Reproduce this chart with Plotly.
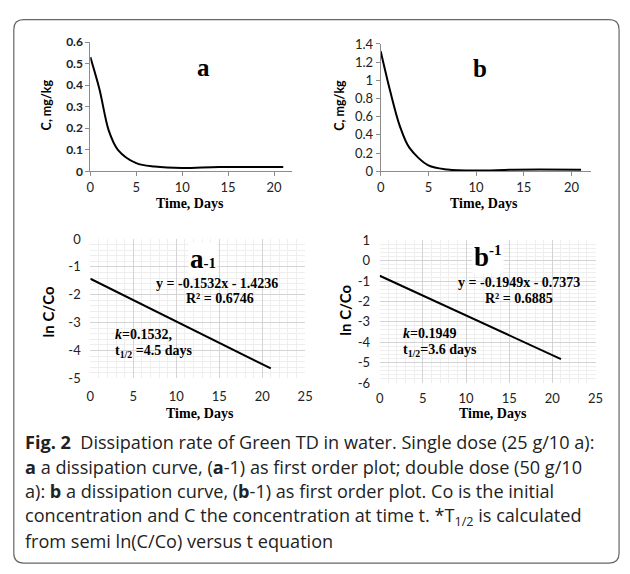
import plotly.graph_objects as go

W, H = 630, 574

# ---------------- data ----------------
days_a = [0, 1, 2, 3, 5, 7, 10, 14, 21]
conc_a = [0.53, 0.38, 0.19, 0.10, 0.038, 0.022, 0.015, 0.02, 0.02]
days_b = [0, 1, 2, 3, 5, 7, 10, 14, 21]
conc_b = [1.32, 0.88, 0.50, 0.26, 0.065, 0.02, 0.008, 0.018, 0.018]

fit_x = [0, 21]
slope_a, icpt_a, r2_a = -0.1532, -1.4236, 0.6746
slope_b, icpt_b, r2_b = -0.1949, -0.7373, 0.6885
k_a, thalf_a = 0.1532, 4.5
k_b, thalf_b = 0.1949, 3.6

ticks_a_y = [0, 0.1, 0.2, 0.3, 0.4, 0.5, 0.6]
ticks_b_y = [0, 0.2, 0.4, 0.6, 0.8, 1.0, 1.2, 1.4]
ticks_a1_y = [0, -1, -2, -3, -4, -5]
ticks_b1_y = [1, 0, -1, -2, -3, -4, -5, -6]
ticks_curve_x = [0, 5, 10, 15, 20]
ticks_lin_x = [0, 5, 10, 15, 20, 25]

caption_lines = [
    "<b>Fig. 2</b>  Dissipation rate of Green TD in water. Single dose (25 g/10 a):",
    "<b>a</b> a dissipation curve, (<b>a</b>-1) as first order plot; double dose (50 g/10",
    "a): <b>b</b> a dissipation curve, (<b>b</b>-1) as first order plot. Co is the initial",
    "concentration and C the concentration at time t. *T<sub>1/2</sub> is calculated",
    "from semi ln(C/Co) versus t equation",
]

# ---------------- helpers ----------------
def px(x):
    return x / W

def py(y):
    return 1 - y / H

SERIF = "Liberation Serif"
SANS = "Lato"
CAP = "Open Sans"

fig = go.Figure()

fig.add_trace(go.Scatter(x=days_a, y=conc_a, mode="lines", line=dict(color="black", width=2, shape="spline", smoothing=0.9),
                         xaxis="x", yaxis="y", showlegend=False))
fig.add_trace(go.Scatter(x=days_b, y=conc_b, mode="lines", line=dict(color="black", width=2, shape="spline", smoothing=0.9),
                         xaxis="x2", yaxis="y2", showlegend=False))
fig.add_trace(go.Scatter(x=fit_x, y=[slope_a * v + icpt_a for v in fit_x], mode="lines", line=dict(color="black", width=2),
                         xaxis="x3", yaxis="y3", showlegend=False))
fig.add_trace(go.Scatter(x=fit_x, y=[slope_b * v + icpt_b for v in fit_x], mode="lines", line=dict(color="black", width=2),
                         xaxis="x4", yaxis="y4", showlegend=False))

axcol = "#8c8c8c"
curve_x = dict(range=[0, 22], tickvals=ticks_curve_x, showline=True, linecolor=axcol, linewidth=1,
               ticks="outside", ticklen=4, tickcolor=axcol, showgrid=False, zeroline=False,
               tickfont=dict(family=SANS, size=13, color="#222"))
grid_major = "#d4d4d4"
grid_minor = "#eeeeee"

fig.update_layout(
    width=W, height=H,
    margin=dict(l=0, r=0, t=0, b=0),
    paper_bgcolor="white", plot_bgcolor="rgba(0,0,0,0)",
    xaxis=dict(domain=[px(88), px(294)], anchor="y", **curve_x),
    yaxis=dict(domain=[py(168), py(35)], anchor="x", range=[0, 0.6], tickvals=ticks_a_y,
               showline=True, linecolor=axcol, ticks="outside", ticklen=4, tickcolor=axcol,
               showgrid=False, zeroline=False,
               tickfont=dict(family=SANS, size=12, color="#222", weight="bold")),
    xaxis2=dict(domain=[px(384), px(598)], anchor="y2", **curve_x),
    yaxis2=dict(domain=[py(168), py(37)], anchor="x2", range=[0, 1.4], tickvals=ticks_b_y,
                ticktext=[("%g" % v) for v in ticks_b_y],
                showline=True, linecolor=axcol, ticks="outside", ticklen=4, tickcolor=axcol,
                showgrid=False, zeroline=False,
                tickfont=dict(family=SANS, size=13, color="#222")),
    xaxis3=dict(domain=[px(88), px(307)], anchor="y3", range=[0, 25], tickvals=ticks_lin_x,
                showgrid=True, gridcolor=grid_major, zeroline=False, showline=False,
                ticks="outside", ticklen=6, tickcolor="rgba(0,0,0,0)",
                minor=dict(dtick=1, showgrid=True, gridcolor=grid_minor),
                tickfont=dict(family=SANS, size=13, color="#222")),
    yaxis3=dict(domain=[py(381), py(237.7)], anchor="x3", range=[-5, 0],
                tickvals=ticks_a1_y, ticktext=["%d" % v for v in ticks_a1_y],
                showgrid=True, gridcolor=grid_major, zeroline=False, showline=False,
                ticks="outside", ticklen=6, tickcolor="rgba(0,0,0,0)",
                minor=dict(dtick=0.2, showgrid=True, gridcolor=grid_minor),
                tickfont=dict(family=SANS, size=13, color="#222")),
    xaxis4=dict(domain=[px(383), px(603)], anchor="y4", range=[0, 25], tickvals=ticks_lin_x,
                showgrid=True, gridcolor=grid_major, zeroline=False, showline=False,
                ticks="outside", ticklen=3, tickcolor="rgba(0,0,0,0)",
                minor=dict(dtick=1, showgrid=True, gridcolor=grid_minor),
                tickfont=dict(family=SANS, size=13, color="#222")),
    yaxis4=dict(domain=[py(385.7), py(239)], anchor="x4", range=[-6, 1],
                tickvals=ticks_b1_y, ticktext=["%d" % v for v in ticks_b1_y],
                showgrid=True, gridcolor=grid_major, zeroline=False, showline=False,
                ticks="outside", ticklen=6, tickcolor="rgba(0,0,0,0)",
                minor=dict(dtick=0.2, showgrid=True, gridcolor=grid_minor),
                tickfont=dict(family=SANS, size=13, color="#222")),
)

anns = []

def ann(x, y, text, size, family, xanchor="center", yanchor="middle", angle=0, color="black", bg=None):
    d = dict(x=px(x), y=py(y), xref="paper", yref="paper", text=text, showarrow=False,
             xanchor=xanchor, yanchor=yanchor, textangle=angle,
             font=dict(size=size, family=family, color=color))
    if bg:
        d["bgcolor"] = bg
    anns.append(d)

# panel labels
ann(203, 61, "<b>a</b>", 25, SERIF)
ann(485, 62, "<b>b</b>", 25, SERIF)
ann(203, 258, "<b>a</b><span style='font-size:15px'><b>-1</b></span>", 27, SERIF, bg="white")
ann(493, 256, "<b>b</b><sup><span style='font-size:15px'><b>-1</b></span></sup>", 27, SERIF, bg="white")

# axis titles
ann(43, 100, "<b>C, mg/kg</b>", 12.5, SANS, angle=-90)
ann(342, 100, "<b>C, mg/kg</b>", 12.5, SANS, angle=-90)
ann(45, 313, "<b>ln C/Co</b>", 15, SANS, angle=-90)
ann(348, 311, "<b>ln C/Co</b>", 15, SANS, angle=-90)
ann(190, 201, "<b>Time, Days</b>", 14, SERIF)
ann(489, 201, "<b>Time, Days</b>", 14, SERIF)
ann(200, 417, "<b>Time, Days</b>", 14, SERIF)
ann(498, 417, "<b>Time, Days</b>", 14, SERIF)

# equations
ann(217, 283, "<b>y = %.4fx - %.4f</b>" % (slope_a, -icpt_a), 14, SERIF)
ann(220, 299, "<b>R² = %.4f</b>" % r2_a, 14, SERIF)
ann(111, 336, "<b><i>k</i>=%.4f,</b>" % k_a, 14, SERIF, xanchor="left")
ann(111, 353, "<b>t<sub>1/2</sub> =%.1f days</b>" % thalf_a, 14, SERIF, xanchor="left")
ann(525, 282, "<b>y = %.4fx - %.4f</b>" % (slope_b, -icpt_b), 14, SERIF)
ann(525, 299, "<b>R² = %.4f</b>" % r2_b, 14, SERIF)
ann(405, 335, "<b><i>k</i>=%.4f</b>" % k_b, 14, SERIF, xanchor="left")
ann(405, 352, "<b>t<sub>1/2</sub>=%.1f days</b>" % thalf_b, 14, SERIF, xanchor="left")

# caption
cap_y = [446, 472, 497, 523, 548]
for yy, line in zip(cap_y, caption_lines):
    ann(19, yy, line, 18.1, CAP, xanchor="left", color="#222")

fig.update_layout(annotations=anns)

# rounded border box
x0, x1 = px(10), px(627)
yt, yb = py(12), py(571)
rx, ry = 10 / W, 10 / H
path = (f"M {x0+rx},{yt} L {x1-rx},{yt} Q {x1},{yt} {x1},{yt-ry} "
        f"L {x1},{yb+ry} Q {x1},{yb} {x1-rx},{yb} L {x0+rx},{yb} "
        f"Q {x0},{yb} {x0},{yb+ry} L {x0},{yt-ry} Q {x0},{yt} {x0+rx},{yt} Z")
fig.add_shape(type="path", path=path, xref="paper", yref="paper",
              line=dict(color="#666666", width=1.2), layer="below")

fig.write_html("out.html", config={"displayModeBar": False},
               post_script="document.documentElement.style.margin='0';document.body.style.margin='0';"
                           "document.body.style.overflow='hidden';")
